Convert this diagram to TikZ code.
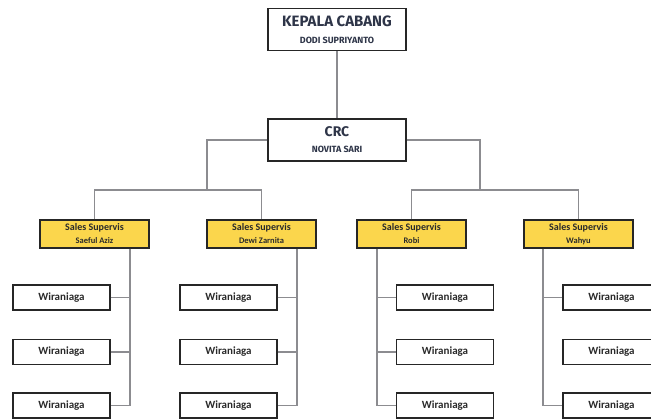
\documentclass[tikz,border=0pt]{standalone}
\usepackage{fontspec}
\newfontfamily\hfont{Fira Sans}
\newfontfamily\cfont{Carlito}
\definecolor{boxc}{HTML}{262626}
\definecolor{linec}{HTML}{8C8C90}
\definecolor{supy}{HTML}{FBD64C}
\definecolor{headc}{HTML}{2E3548}
\definecolor{txtc}{HTML}{2A2A2A}
\begin{document}
\begin{tikzpicture}[x=1pt,y=-1pt,
  box/.style={draw=boxc, line width=1.4pt, fill=white, inner sep=0pt, align=center},
  head/.style={box, minimum width=138pt, minimum height=42pt, text=headc, font=\hfont\bfseries},
  sup/.style={box, fill=supy, minimum width=109pt, minimum height=28pt, text=txtc, font=\cfont\bfseries},
  wir/.style={box, minimum width=97pt, minimum height=25pt, text=txtc,
    font=\cfont\bfseries\fontsize{11}{12}\selectfont},
  conn/.style={draw=linec, line width=1.1pt}]
\useasboundingbox (0,0) rectangle (651,419);
\clip (0,0) rectangle (651,419);

% head boxes
\node[head] (kc) at (337,29.5) {{\hfont\bfseries\fontsize{15}{12}\selectfont KEPALA CABANG}\\[5pt]{\hfont\bfseries\fontsize{9}{12}\selectfont DODI SUPRIYANTO}};
\node[head] (crc) at (337,140) {{\hfont\bfseries\fontsize{14}{11}\selectfont CRC}\\[4pt]{\hfont\bfseries\fontsize{9}{11}\selectfont NOVITA SARI}};

% supervisors
\node[sup] (s1) at (94.5,234) {{\cfont\bfseries\fontsize{10}{9}\selectfont Sales Supervis}\\[1pt]{\cfont\bfseries\fontsize{8.5}{9}\selectfont Saeful Aziz}};
\node[sup] (s2) at (261.5,234) {{\cfont\bfseries\fontsize{10}{9}\selectfont Sales Supervis}\\[1pt]{\cfont\bfseries\fontsize{8.5}{9}\selectfont Dewi Zarnita}};
\node[sup] (s3) at (411.5,234) {{\cfont\bfseries\fontsize{10}{9}\selectfont Sales Supervis}\\[1pt]{\cfont\bfseries\fontsize{8.5}{9}\selectfont Robi}};
\node[sup] (s4) at (578.5,234) {{\cfont\bfseries\fontsize{10}{9}\selectfont Sales Supervis}\\[1pt]{\cfont\bfseries\fontsize{8.5}{9}\selectfont Wahyu}};

% wiraniaga
\foreach \c/\x in {1/61.5,2/228.5,3/445,4/611.5}{
  \node[wir] (w\c1) at (\x,297.5) {Wiraniaga};
  \node[wir] (w\c2) at (\x,352) {Wiraniaga};
  \node[wir] (w\c3) at (\x,405.5) {Wiraniaga};
}

% coordinates for branch lines
\coordinate (bl) at (207,190);
\coordinate (br) at (480,190);
\coordinate (v1) at (130,0);
\coordinate (v2) at (297,0);
\coordinate (v3) at (377,0);
\coordinate (v4) at (543,0);

% connectors top
\draw[conn] (kc.south) -- (crc.north);
\draw[conn] (crc.west) -| (bl);
\draw[conn] (crc.east) -| (br);
\draw[conn] (s1.north) |- (bl) -| (s2.north);
\draw[conn] (s3.north) |- (br) -| (s4.north);

% connectors to wiraniaga, left columns
\draw[conn] (s1.south -| v1) |- (w13.east);
\draw[conn] (w11.east) -- (w11.east -| v1);
\draw[conn] (w12.east) -- (w12.east -| v1);
\draw[conn] (s2.south -| v2) |- (w23.east);
\draw[conn] (w21.east) -- (w21.east -| v2);
\draw[conn] (w22.east) -- (w22.east -| v2);
% right columns
\draw[conn] (s3.south -| v3) |- (w33.west);
\draw[conn] (w31.west) -- (w31.west -| v3);
\draw[conn] (w32.west) -- (w32.west -| v3);
\draw[conn] (s4.south -| v4) |- (w43.west);
\draw[conn] (w41.west) -- (w41.west -| v4);
\end{tikzpicture}
\end{document}
